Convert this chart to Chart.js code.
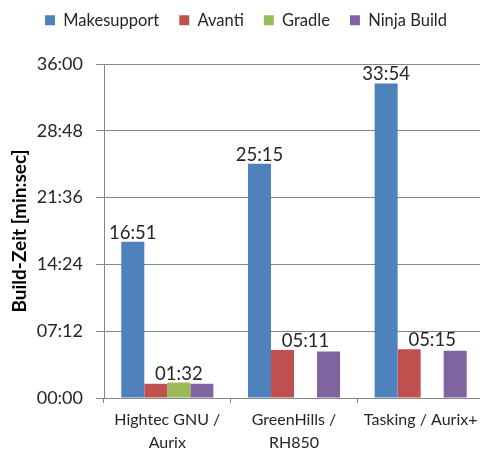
<!DOCTYPE html>
<html>
<head>
<meta charset="utf-8">
<script src="https://cdn.jsdelivr.net/npm/chart.js@4.4.1/dist/chart.umd.min.js"></script>
<style>
html,body{margin:0;padding:0;background:#fff;overflow:hidden;}
#wrap{width:484px;height:453px;}
</style>
</head>
<body>
<div id="wrap"><canvas id="c" width="484" height="453"></canvas></div>
<script>
// values in seconds
const categories = [["Hightec GNU /","Aurix"],["GreenHills /","RH850"],["Tasking / Aurix+"]];
const makesupport = [1011, 1515, 2034];
const avanti = [92, 311, 315];
const gradle = [100, null, null];
const ninjaBuild = [92, 300, 306];
const yTicks = [0, 432, 864, 1296, 1728, 2160];
const seriesNames = ["Makesupport","Avanti","Gradle","Ninja Build"];

function fmt(s){
  const m = Math.floor(s/60), r = Math.round(s - m*60);
  return String(m).padStart(2,'0') + ':' + String(r).padStart(2,'0');
}

const FONT = "Lato, 'Open Sans', sans-serif";

const legendSize = {
  id:'legendSize',
  beforeInit(chart){
    const lg = chart.legend;
    if (!lg) return;
    const orig = lg.fit.bind(lg);
    lg.fit = function(){ orig(); this.height = 72; };
  }
};

const labelPlugin = {
  id:'vlabels',
  afterDatasetsDraw(chart){
    const ctx = chart.ctx;
    ctx.save();
    ctx.font = "18.5px " + FONT;
    ctx.fillStyle = "#262626";
    ctx.textAlign = "center";
    ctx.textBaseline = "alphabetic";
    const m0 = chart.getDatasetMeta(0);
    m0.data.forEach((el,i)=>{
      ctx.fillText(fmt(makesupport[i]), el.x, el.y - 3);
    });
    const m1 = chart.getDatasetMeta(1), m2 = chart.getDatasetMeta(2), m3 = chart.getDatasetMeta(3);
    m1.data.forEach((el,i)=>{
      const cx = (el.x + m3.data[i].x)/2;
      let top = Math.min(el.y, m3.data[i].y);
      if (gradle[i] != null) top = Math.min(top, m2.data[i].y);
      ctx.fillText(fmt(avanti[i]), cx, top - 3);
    });
    ctx.restore();
  }
};

new Chart(document.getElementById('c'), {
  type:'bar',
  data:{
    labels: categories,
    datasets:[
      {label:seriesNames[0], data:makesupport, backgroundColor:'#4F81BD'},
      {label:seriesNames[1], data:avanti, backgroundColor:'#C0504D'},
      {label:seriesNames[2], data:gradle, backgroundColor:'#9BBB59'},
      {label:seriesNames[3], data:ninjaBuild, backgroundColor:'#8064A2'}
    ]
  },
  options:{
    responsive:false,
    animation:false,
    layout:{padding:{top:-8,left:8,right:0,bottom:0}},
    datasets:{bar:{categoryPercentage:0.727, barPercentage:1.0}},
    plugins:{
      tooltip:{enabled:false},
      legend:{
        position:'top',
        labels:{boxWidth:10, boxHeight:10, padding:20, color:'#262626', font:{family:FONT, size:16.5}}
      }
    },
    scales:{
      x:{
        offset:true,
        grid:{offset:true, drawOnChartArea:false, tickLength:5, color:'#868686'},
        border:{color:'#868686'},
        ticks:{color:'#262626', padding:6, font:{family:FONT, size:16, lineHeight:1.4}, maxRotation:0},
        afterFit(s){ s.height = 55; }
      },
      y:{
        min:0, max:2160,
        afterBuildTicks(s){ s.ticks = yTicks.map(v=>({value:v})); },
        grid:{color:'#868686', tickLength:8},
        border:{color:'#868686'},
        ticks:{color:'#262626', padding:13, font:{family:FONT, size:18}, callback:(v)=>fmt(v)},
        title:{display:true, text:'Build-Zeit [min:sec]', color:'#000', font:{family:FONT, size:19, weight:'bold'}, padding:{top:0,bottom:6}},
        afterFit(s){ s.width = 96; }
      }
    }
  },
  plugins:[legendSize, labelPlugin]
});
</script>
</body>
</html>
